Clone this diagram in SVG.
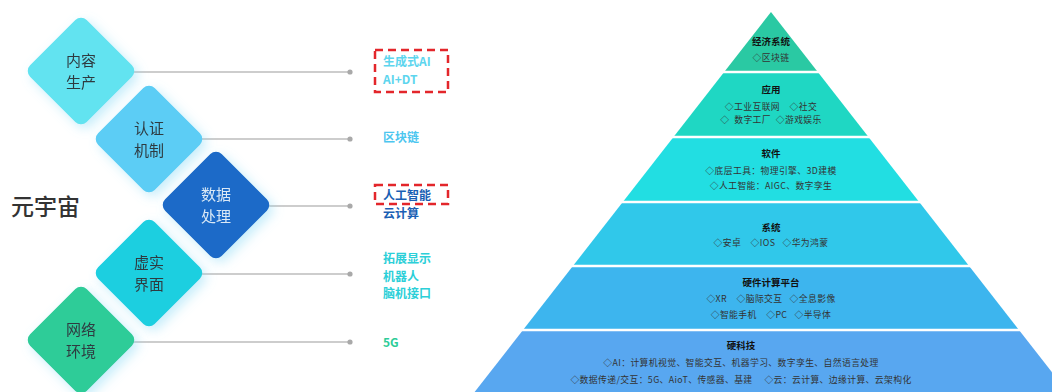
<svg xmlns="http://www.w3.org/2000/svg" width="1052" height="392" viewBox="0 0 1052 392">
<style>
.dt{font-family:"Noto Sans CJK SC","Noto Sans",sans-serif;font-size:15px;text-anchor:middle;fill:#2f3a40}
.lb{font-family:"Noto Sans CJK SC","Noto Sans",sans-serif;font-size:12px;font-weight:700}
.pt{font-family:"Noto Sans CJK SC","Noto Sans",sans-serif;font-size:9.5px;font-weight:700;text-anchor:middle;fill:#111}
.pc{font-family:"Noto Sans CJK SC","Noto Sans",sans-serif;font-size:8.8px;text-anchor:middle;fill:#333;letter-spacing:0.4px}
.ln{stroke:#bdbdbd;stroke-width:1.5;fill:none}
.dot{fill:#a9a9a9}
.box{fill:none;stroke:#e3262b;stroke-width:2.5;stroke-dasharray:8 5}
.sep{stroke:#ffffff;stroke-width:2.5}
</style>
<defs>
<filter id="glow" x="-40%" y="-40%" width="180%" height="180%">
<feGaussianBlur in="SourceAlpha" stdDeviation="6"/>
<feOffset dx="4" dy="4" result="b"/>
<feFlood flood-color="#7fd7f5" flood-opacity="0.45"/>
<feComposite in2="b" operator="in"/>
<feMerge><feMergeNode/><feMergeNode in="SourceGraphic"/></feMerge>
</filter>
</defs>
<rect width="1052" height="392" fill="#ffffff"/>

<text x="11" y="215" font-family="'Noto Sans CJK SC','Noto Sans',sans-serif" font-size="23" font-weight="500" fill="#333">元宇宙</text>

<g id="connectors">
<line class="ln" x1="132" y1="72" x2="350" y2="72"/><circle class="dot" cx="350" cy="72" r="2.6"/>
<line class="ln" x1="200" y1="139" x2="350" y2="139"/><circle class="dot" cx="350" cy="139" r="2.6"/>
<line class="ln" x1="267" y1="206" x2="350" y2="206"/><circle class="dot" cx="350" cy="206" r="2.6"/>
<line class="ln" x1="200" y1="274" x2="350" y2="274"/><circle class="dot" cx="350" cy="274" r="2.6"/>
<line class="ln" x1="132" y1="342" x2="350" y2="342"/><circle class="dot" cx="350" cy="342" r="2.6"/>
</g>

<g id="node-content" filter="url(#glow)">
<rect x="41" y="31" width="80" height="80" rx="8" fill="#62e3f0" transform="rotate(45 81 71)"/>
<text class="dt" x="81" y="66">内容<tspan x="81" dy="22">生产</tspan></text>
</g>
<g id="node-auth" filter="url(#glow)">
<rect x="109" y="99" width="80" height="80" rx="8" fill="#5bcdf5" transform="rotate(45 149 139)"/>
<text class="dt" x="149" y="134">认证<tspan x="149" dy="22">机制</tspan></text>
</g>
<g id="node-data" filter="url(#glow)">
<rect x="176" y="165" width="80" height="80" rx="8" fill="#1a6bc8" transform="rotate(45 216 205)"/>
<text class="dt" x="216" y="200" style="fill:#dbe8f6">数据<tspan x="216" dy="22">处理</tspan></text>
</g>
<g id="node-vr" filter="url(#glow)">
<rect x="109" y="233" width="80" height="80" rx="8" fill="#1fcfe0" transform="rotate(45 149 273)"/>
<text class="dt" x="149" y="268">虚实<tspan x="149" dy="22">界面</tspan></text>
</g>
<g id="node-net" filter="url(#glow)">
<rect x="41" y="300" width="80" height="80" rx="8" fill="#2ecc98" transform="rotate(45 81 340)"/>
<text class="dt" x="81" y="335">网络<tspan x="81" dy="22">环境</tspan></text>
</g>

<g id="labels">
<rect class="box" x="375" y="50" width="73" height="42"/>
<text class="lb" x="383" y="66" fill="#5dd5ee">生成式AI<tspan x="383" dy="17.5">AI+DT</tspan></text>
<text class="lb" x="383" y="142" fill="#4cc6ef">区块链</text>
<rect class="box" x="375" y="185" width="73" height="19"/>
<text class="lb" x="383" y="200" fill="#1a5fb4">人工智能<tspan x="383" dy="17.5">云计算</tspan></text>
<text class="lb" x="383" y="263" fill="#2ccfd8">拓展显示<tspan x="383" dy="17.5">机器人</tspan><tspan x="383" dy="17.5">脑机接口</tspan></text>
<text class="lb" x="383" y="347" fill="#2ecc98">5G</text>
</g>

<g id="pyramid">
<polygon points="771,12 817.8,72 724.2,72" fill="#2ac9a3"/>
<polygon points="724.2,72 817.8,72 868.5,137 673.5,137" fill="#1fd7c3"/>
<polygon points="673.5,137 868.5,137 919.2,202 622.8,202" fill="#22dee2"/>
<polygon points="622.8,202 919.2,202 969.1,266 572.9,266" fill="#30c8ea"/>
<polygon points="572.9,266 969.1,266 1019,330 523,330" fill="#3db5ee"/>
<polygon points="523,330 1019,330 1067.4,392 474.6,392" fill="#58a7f0"/>
<line class="sep" x1="470" y1="72" x2="1052" y2="72"/>
<line class="sep" x1="470" y1="137" x2="1052" y2="137"/>
<line class="sep" x1="470" y1="202" x2="1052" y2="202"/>
<line class="sep" x1="470" y1="266" x2="1052" y2="266"/>
<line class="sep" x1="470" y1="330" x2="1052" y2="330"/>
</g>

<g id="layer-economy">
<text class="pt" x="771" y="45">经济系统</text>
<text class="pc" x="771" y="61">◇区块链</text>
</g>
<g id="layer-app">
<text class="pt" x="771" y="93">应用</text>
<text class="pc" x="771" y="110" xml:space="preserve">◇工业互联网    ◇社交</text>
<text class="pc" x="771" y="123" xml:space="preserve">◇  数字工厂  ◇游戏娱乐</text>
</g>
<g id="layer-software">
<text class="pt" x="771" y="157">软件</text>
<text class="pc" x="771" y="174">◇底层工具：物理引擎、3D建模</text>
<text class="pc" x="771" y="189">◇人工智能：AIGC、数字孪生</text>
</g>
<g id="layer-system">
<text class="pt" x="771" y="231">系统</text>
<text class="pc" x="771" y="246" xml:space="preserve">◇安卓    ◇IOS   ◇华为鸿蒙</text>
</g>
<g id="layer-hardware">
<text class="pt" x="771" y="286">硬件计算平台</text>
<text class="pc" x="771" y="302" xml:space="preserve">◇XR    ◇脑际交互   ◇全息影像</text>
<text class="pc" x="771" y="318" xml:space="preserve">◇智能手机    ◇PC   ◇半导体</text>
</g>
<g id="layer-hardtech">
<text class="pt" x="741" y="349">硬科技</text>
<text class="pc" x="741" y="366">◇AI：计算机视觉、智能交互、机器学习、数字孪生、自然语言处理</text>
<text class="pc" x="741" y="383" xml:space="preserve">◇数据传递/交互：5G、AioT、传感器、基建     ◇云：云计算、边缘计算、云架构化</text>
</g>
</svg>
